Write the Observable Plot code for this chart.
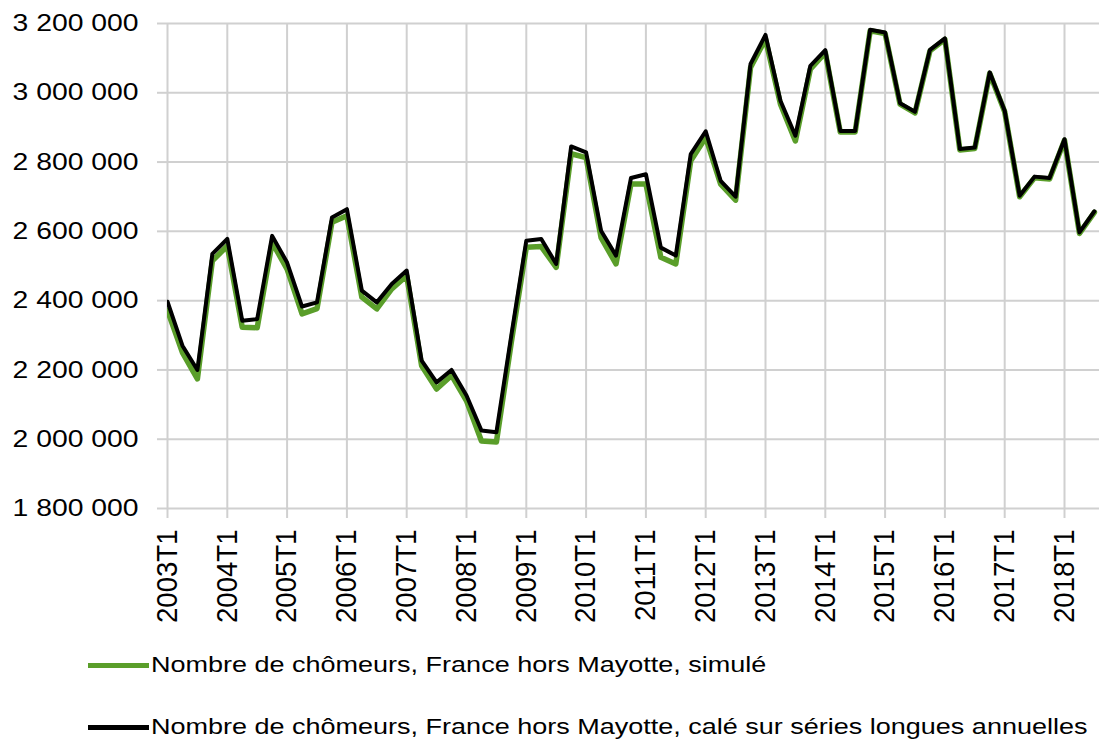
<!DOCTYPE html>
<html><head><meta charset="utf-8">
<script src="https://cdn.jsdelivr.net/npm/d3@7"></script>
<script src="https://cdn.jsdelivr.net/npm/@observablehq/plot@0.6"></script>
<style>
html,body{margin:0;padding:0;background:#fff;}
body{width:1099px;height:744px;overflow:hidden;font-family:"Liberation Sans",Arial,sans-serif;}
#legend{position:relative;height:104px;width:1099px;}
.sw{position:absolute;left:88px;width:61px;height:5px;}
.lab{position:absolute;left:151px;white-space:nowrap;font-size:22.5px;line-height:26px;color:#000;transform-origin:left center;transform:scaleX(1.2);}
</style></head><body>
<div id="chart"></div>
<div id="legend"></div>
<script>
const quarters = [
 "2003T1","2003T2","2003T3","2003T4","2004T1","2004T2","2004T3","2004T4",
 "2005T1","2005T2","2005T3","2005T4","2006T1","2006T2","2006T3","2006T4",
 "2007T1","2007T2","2007T3","2007T4","2008T1","2008T2","2008T3","2008T4",
 "2009T1","2009T2","2009T3","2009T4","2010T1","2010T2","2010T3","2010T4",
 "2011T1","2011T2","2011T3","2011T4","2012T1","2012T2","2012T3","2012T4",
 "2013T1","2013T2","2013T3","2013T4","2014T1","2014T2","2014T3","2014T4",
 "2015T1","2015T2","2015T3","2015T4","2016T1","2016T2","2016T3","2016T4",
 "2017T1","2017T2","2017T3","2017T4","2018T1","2018T2","2018T3"
];
// Nombre de chômeurs, simulé (green)
const simule = [
 2372000,2250000,2174000,2515000, 2558000,2323000,2322000,2568000,
 2491000,2362000,2377000,2626000, 2645000,2410000,2376000,2434000,
 2472000,2212000,2145000,2184000, 2111000,1995000,1992000,2280000,
 2554000,2556000,2496000,2824000, 2813000,2582000,2506000,2737000,
 2737000,2525000,2506000,2804000, 2871000,2736000,2690000,3073000,
 3155000,2967000,2861000,3068000, 3116000,2887000,2887000,3179000,
 3171000,2967000,2942000,3121000, 3154000,2835000,2839000,3056000,
 2945000,2700000,2755000,2751000, 2863000,2594000,2655000
];
// Nombre de chômeurs, calé sur séries longues annuelles (black)
const cale = [
 2397000,2270000,2200000,2535000, 2578000,2342000,2347000,2587000,
 2510000,2383000,2395000,2640000, 2664000,2429000,2395000,2448000,
 2487000,2227000,2164000,2200000, 2126000,2025000,2020000,2300000,
 2573000,2578000,2506000,2845000, 2828000,2602000,2530000,2754000,
 2765000,2553000,2530000,2823000, 2889000,2746000,2700000,3083000,
 3167000,2977000,2876000,3078000, 3123000,2890000,2890000,3182000,
 3174000,2970000,2945000,3124000, 3157000,2838000,2842000,3059000,
 2948000,2703000,2758000,2754000, 2866000,2597000,2658000
];
const yTicks = [1800000,2000000,2200000,2400000,2600000,2800000,3000000,3200000];
const xTickLabels = ["2003T1","2004T1","2005T1","2006T1","2007T1","2008T1","2009T1","2010T1",
 "2011T1","2012T1","2013T1","2014T1","2015T1","2016T1","2017T1","2018T1"];
const seriesNames = ["Nombre de chômeurs, France hors Mayotte, simulé",
 "Nombre de chômeurs, France hors Mayotte, calé sur séries longues annuelles"];
const seriesColors = ["#5a9e2a","#000000"];

const data = quarters.map((q,i)=>({i, q, simule: simule[i], cale: cale[i]}));
const xTickIdx = xTickLabels.map(l => quarters.indexOf(l));
const fmt = v => d3.format(",")(v).replace(/,/g," ");
const grid = "#d0d0d0";

const W = 1099, H = 640, mL = 167, mT = 23, mB = 132;
const xMax = (W - mL) / 14.95;

const chart = Plot.plot({
  width: W, height: H,
  marginLeft: mL, marginRight: 0, marginTop: mT, marginBottom: mB,
  style: {fontFamily: '"Liberation Sans", Arial, sans-serif', fontSize: "24px", color: "#000", background: "#fff", overflow: "visible"},
  x: {type: "linear", domain: [0, xMax]},
  y: {domain: [1800000, 3200000]},
  marks: [
    Plot.ruleY(yTicks, {stroke: grid, strokeWidth: 2}),
    Plot.ruleX(xTickIdx, {y1: 1800000, y2: 3200000, stroke: grid, strokeWidth: 2}),
    Plot.axisY(yTicks, {tickSize: 10, tickPadding: 19, tickFormat: fmt, stroke: grid, strokeWidth: 2, fill: "#000", fontSize: 24, label: null}),
    Plot.axisX(xTickIdx, {tickSize: 10, tickPadding: 11, tickRotate: -90, tickFormat: i => quarters[i], stroke: grid, strokeWidth: 2, fill: "#000", fontSize: 24, label: null}),
    Plot.line(data, {x: "i", y: "simule", stroke: seriesColors[0], strokeWidth: 5.5, clip: true}),
    Plot.line(data, {x: "i", y: "cale", stroke: seriesColors[1], strokeWidth: 4, clip: true})
  ]
});
document.getElementById("chart").appendChild(chart);

// emulate horizontally stretched text of the reference
d3.select(chart).selectAll('g[aria-label="y-axis tick label"] text').each(function(){
  const t = this.getAttribute("transform") || "";
  this.setAttribute("transform", t + " scale(1.18,1)");
});
d3.select(chart).selectAll('g[aria-label="x-axis tick label"] text').each(function(){
  const t = this.getAttribute("transform") || "";
  this.setAttribute("transform", t + " scale(1.15,1.2)");
});

const legend = document.getElementById("legend");
const rowsY = [25, 87];
seriesNames.forEach((name, k) => {
  const sw = document.createElement("div");
  sw.className = "sw";
  sw.style.top = (rowsY[k] - 2.5) + "px";
  sw.style.background = seriesColors[k];
  legend.appendChild(sw);
  const lab = document.createElement("div");
  lab.className = "lab";
  lab.style.top = (rowsY[k] - 13) + "px";
  lab.textContent = name;
  legend.appendChild(lab);
});
</script>
</body></html>
